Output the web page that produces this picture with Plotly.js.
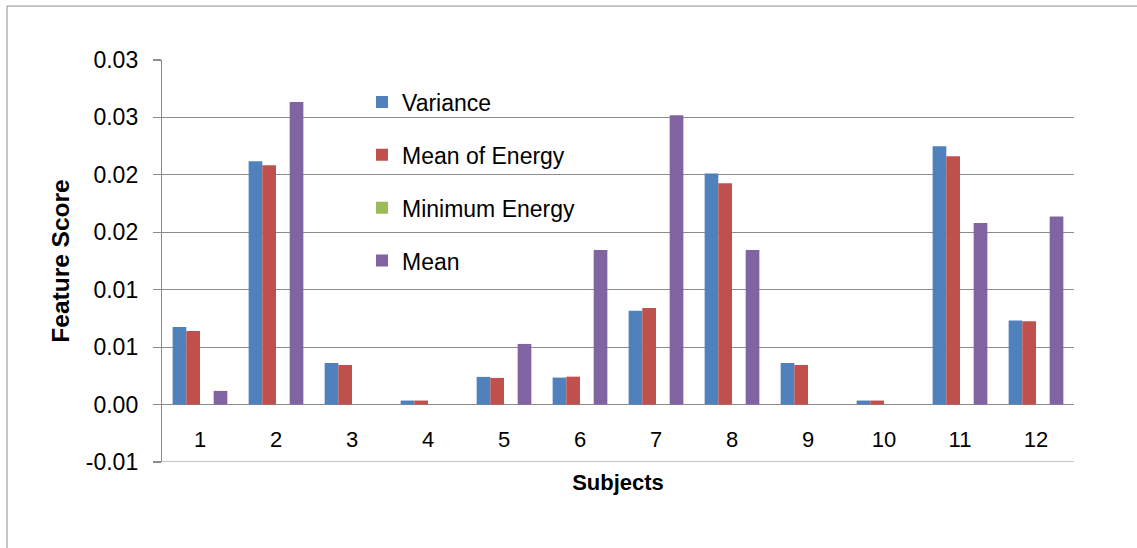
<!DOCTYPE html>
<html>
<head>
<meta charset="utf-8">
<script src="https://cdn.plot.ly/plotly-3.0.1.min.js"></script>
<style>
  html, body { margin: 0; padding: 0; background: #ffffff; }
  #chart { width: 1137px; height: 548px; }
</style>
</head>
<body>
<div id="chart"></div>
<script>
// ---- data ----
const subjects = ['1','2','3','4','5','6','7','8','9','10','11','12'];
const variance      = [0.00676, 0.02119, 0.00362, 0.00035, 0.00241, 0.00235, 0.00817, 0.02012, 0.00362, 0.00035, 0.02250, 0.00733];
const meanOfEnergy  = [0.00641, 0.02084, 0.00345, 0.00035, 0.00232, 0.00243, 0.00841, 0.01928, 0.00345, 0.00035, 0.02162, 0.00725];
const minimumEnergy = [0, 0, 0, 0, 0, 0, 0, 0, 0, 0, 0, 0];
const meanValues    = [0.00119, 0.02635, 0, 0, 0.00528, 0.01345, 0.02519, 0.01345, 0, 0, 0.01580, 0.01638];

const seriesNames  = ['Variance', 'Mean of Energy', 'Minimum Energy', 'Mean'];
const seriesColors = ['#4F81BD', '#C0504D', '#9BBB59', '#8064A2'];
const yTickValues  = [-0.005, 0, 0.005, 0.01, 0.015, 0.02, 0.025, 0.03];
const yTickLabels  = ['-0.01', '0.00', '0.01', '0.01', '0.02', '0.02', '0.03', '0.03'];

const allSeries = [variance, meanOfEnergy, minimumEnergy, meanValues];

const traces = allSeries.map((vals, i) => ({
  type: 'bar',
  name: seriesNames[i],
  x: subjects,
  y: vals,
  legendgroup: 'g' + i,
  marker: { color: seriesColors[i], line: { width: 0 } },
  hoverinfo: 'x+y+name'
}));

const gridColor = '#8c8c8c';
const font = 'Liberation Sans, Arial, sans-serif';

// plot area in px: x 162..1074, y 60..462.5
const px = v => (v - 162) / 912;
const py = v => (462.5 - v) / 402.5;

const layout = {
  width: 1137,
  height: 548,
  margin: { l: 162, r: 63, t: 60, b: 85.5, pad: 0 },
  paper_bgcolor: '#ffffff',
  plot_bgcolor: '#ffffff',
  font: { family: font, size: 22, color: '#000000' },
  barmode: 'group',
  bargap: 0.28,
  bargroupgap: 0,
  showlegend: true,
  legend: {
    x: px(362), xanchor: 'left',
    y: py(80.5), yanchor: 'top',
    bgcolor: 'rgba(0,0,0,0)',
    borderwidth: 0,
    traceorder: 'grouped',
    tracegroupgap: 20,
    font: { family: font, size: 23, color: '#000000' }
  },
  xaxis: {
    type: 'category',
    anchor: 'free',
    position: py(405),
    showline: false,
    showgrid: false,
    zeroline: false,
    ticks: '',
    ticklabelstandoff: 19,
    tickfont: { family: font, size: 22, color: '#000000' },
    title: { text: 'Subjects', font: { family: font, size: 22, color: '#000000', weight: 'bold' }, standoff: 24 },
    fixedrange: true
  },
  yaxis: {
    range: [yTickValues[0], yTickValues[yTickValues.length - 1]],
    tickmode: 'array',
    tickvals: yTickValues,
    ticktext: yTickLabels,
    showgrid: true,
    gridcolor: gridColor,
    gridwidth: 1.2,
    zeroline: false,
    showline: true,
    linecolor: gridColor,
    linewidth: 1.2,
    ticks: 'outside',
    ticklen: 8,
    tickcolor: gridColor,
    tickwidth: 1.2,
    ticklabelstandoff: 10,
    tickfont: { family: font, size: 23, color: '#000000' },
    title: { text: 'Feature Score', font: { family: font, size: 24.5, color: '#000000', weight: 'bold' }, standoff: 9 },
    fixedrange: true
  },
  shapes: [
    {
      // bottom gridline at the lowest tick value
      type: 'line', xref: 'paper', yref: 'y',
      x0: 0, x1: 1, y0: yTickValues[0], y1: yTickValues[0],
      line: { color: gridColor, width: 1.2 }
    },
    {
      // outer chart frame (left and top edges visible)
      type: 'path', xref: 'paper', yref: 'paper',
      path: 'M ' + px(7) + ',' + py(600) + ' L ' + px(7) + ',' + py(6) + ' L ' + px(1200) + ',' + py(6),
      line: { color: '#8c8c8c', width: 1 }
    }
  ]
};

Plotly.newPlot('chart', traces, layout, { displayModeBar: false, staticPlot: true });
</script>
</body>
</html>
